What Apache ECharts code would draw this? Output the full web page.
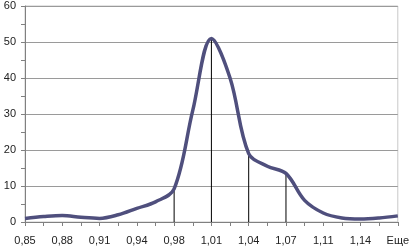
<!DOCTYPE html>
<html><head><meta charset="utf-8">
<script src="https://cdn.jsdelivr.net/npm/echarts@6/dist/echarts.min.js"></script>
<style>html,body{margin:0;padding:0;background:#fff}#c{width:412px;height:249px}</style>
</head><body><div id="c"></div>
<script>
const categories = ['0,85','0,865','0,88','0,895','0,91','0,925','0,94','0,96','0,98','0,995','1,01','1,025','1,04','1,055','1,07','1,09','1,11','1,125','1,14','1,155','Еще'];
const values = [1, 1.5, 1.8, 1.3, 1, 2, 3.8, 5.6, 9.2, 31, 51, 40, 19, 15.5, 13.5, 6, 2.5, 1.1, 0.8, 1.1, 1.7];
const dropIndices = [8, 10, 12, 14];
const yTicks = [0, 10, 20, 30, 40, 50, 60];
const dropValues = values.map((v, i) => dropIndices.includes(i) ? v : '-');
const chart = echarts.init(document.getElementById('c'));
const font = 'Liberation Sans, Arial, sans-serif';
chart.setOption({
  animation: false,
  grid: {left: 25, right: 11, top: 6, bottom: 27, show: true, borderColor: '#c8c8c8', borderWidth: 1},
  xAxis: {
    type: 'category', data: categories, boundaryGap: false,
    axisLine: {lineStyle: {color: '#808080', width: 1}},
    axisTick: {show: true, interval: 0, length: 4, lineStyle: {color: '#808080'}},
    axisLabel: {interval: 1, color: '#222', fontFamily: font, fontSize: 11, margin: 13},
    splitLine: {show: false}
  },
  yAxis: {
    type: 'value', min: yTicks[0], max: yTicks[yTicks.length - 1], interval: 10,
    axisLine: {show: true, lineStyle: {color: '#808080', width: 1}},
    axisTick: {show: true, length: 4, lineStyle: {color: '#808080'}},
    minorTick: {show: true, splitNumber: 2, length: 4, lineStyle: {color: '#808080'}},
    axisLabel: {color: '#222', fontFamily: font, fontSize: 11, margin: 9},
    splitLine: {show: true, lineStyle: {color: '#9a9a9a', width: 1}}
  },
  series: [
    {type: 'bar', data: dropValues, barWidth: 1, itemStyle: {color: '#000'}, silent: true, z: 1},
    {type: 'line', data: values, smooth: 0.35, showSymbol: false, lineStyle: {color: '#4f4f7d', width: 3.5}, z: 3}
  ]
});
</script></body></html>
